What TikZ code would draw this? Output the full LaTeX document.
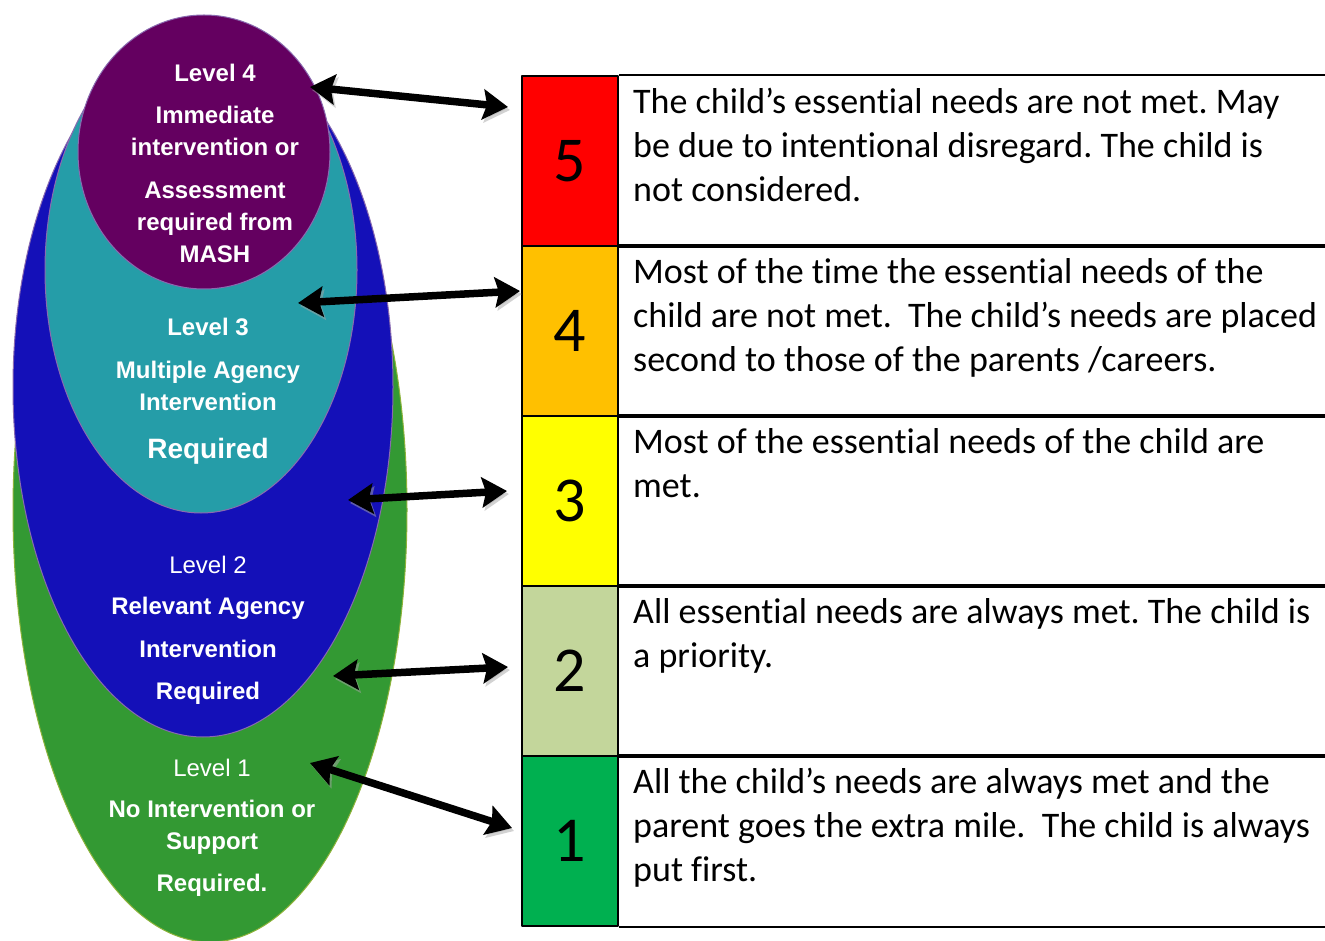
\documentclass[tikz,border=0pt]{standalone}
\usepackage{fontspec}
\setmainfont[Ligatures={NoCommon,NoRequired,NoContextual}]{Carlito}
\newfontfamily\arialfont{Liberation Sans}
\usetikzlibrary{shapes.geometric,arrows.meta,positioning}
\definecolor{lvlpurple}{HTML}{640060}
\definecolor{lvlteal}{HTML}{259DA8}
\definecolor{lvlblue}{HTML}{1410B8}
\definecolor{lvlgreen}{HTML}{339933}
\definecolor{rimpurple}{HTML}{8A6AB0}
\definecolor{rimgreen}{HTML}{8DB33A}
\definecolor{rowred}{HTML}{FF0000}
\definecolor{rowamber}{HTML}{FFC000}
\definecolor{rowyellow}{HTML}{FFFF00}
\definecolor{rowolive}{HTML}{C3D69B}
\definecolor{rowgreen}{HTML}{00B050}
\frenchspacing
\begin{document}
\begin{tikzpicture}[x=1pt,y=-1pt,line join=round,
	lvl/.style={ellipse,inner sep=0pt,draw=rimpurple,line width=1pt},
	lvltext/.style={text=white,align=center,anchor=north,inner sep=0pt,font=\arialfont\bfseries\fontsize{24}{32}\selectfont},
	numcell/.style={draw=black,line width=2pt,minimum width=96pt,minimum height=170pt,inner sep=0pt,font=\fontsize{64}{70}\selectfont},
	desc/.style={align=left,inner sep=0pt,font=\fontsize{36}{44}\selectfont},
	link/.style={line width=7.5pt,{Stealth[length=25pt,width=30pt,inset=4pt]}-{Stealth[length=25pt,width=30pt,inset=4pt]},
		preaction={draw=black!35,opacity=0.5,transform canvas={shift={(2pt,-3pt)}}}}]
	\useasboundingbox (0,0) rectangle (1325,941);
	\coordinate (edge) at (1325,0);
	% levels, largest first
	\node[lvl,fill=lvlgreen,draw=rimgreen,minimum width=394pt,minimum height=864pt] (l1) at (210,510) {};
	\node[lvl,fill=lvlblue,minimum width=380pt,minimum height=700pt] (l2) at (203,387) {};
	\node[lvl,fill=lvlteal,minimum width=312pt,minimum height=486pt] (l3) at (201,270) {};
	\node[lvl,fill=lvlpurple,minimum width=252pt,minimum height=274pt] (l4) at (204,152) {};
	\node[lvltext] (t4) at (215,64) {Level 4\\[10pt]Immediate\\intervention or\\[11pt]Assessment\\required from\\MASH};
	\node[lvltext] (t3) at (208,318) {Level 3\\[11pt]Multiple Agency\\Intervention\\[16pt]{\fontsize{28}{32}\selectfont Required}};
	\node[lvltext] (t2) at (208,556) {{\mdseries Level 2}\\[9pt]Relevant Agency\\[11pt]Intervention\\[10pt]Required};
	\node[lvltext] (t1) at (212,759) {{\mdseries Level 1}\\[9pt]No Intervention or\\Support\\[10pt]Required.};
	% table
	\foreach \n/\col [count=\i] in {5/rowred,4/rowamber,3/rowyellow,2/rowolive,1/rowgreen}{
		\node[numcell,fill=\col] (n\n) at (570,{161+170*(\i-1)}) {\n};
		\draw[line width=2pt] (n\n.north east) -- (n\n.north east -| edge);
		\draw[line width=2pt] (n\n.south east) -- (n\n.south east -| edge);
	}
	\node[desc,below right=13pt and 14pt of n5.north east] (d5) {The child’s essential needs are not met. May\\be due to intentional disregard. The child is\\not considered.};
	\node[desc,below right=13pt and 14pt of n4.north east] (d4) {Most of the time the essential needs of the\\child are not met.~ The child’s needs are placed\\second to those of the parents /careers.};
	\node[desc,below right=13pt and 14pt of n3.north east] (d3) {Most of the essential needs of the child are\\met.};
	\node[desc,below right=13pt and 14pt of n2.north east] (d2) {All essential needs are always met. The child is\\a priority.};
	\node[desc,below right=13pt and 14pt of n1.north east] (d1) {All the child’s needs are always met and the\\parent goes the extra mile.~ The child is always\\put first.};
	% arrows
	\coordinate (e5) at (310,87);  \coordinate (r5) at (508,107);
	\coordinate (e4) at (298,303); \coordinate (r4) at (520,291);
	\coordinate (e3) at (348,500); \coordinate (r3) at (507,491);
	\coordinate (e2) at (333,676); \coordinate (r2) at (508,667);
	\coordinate (e1) at (310,763); \coordinate (r1) at (512,828);
	\foreach \n in {5,4,3,2,1}
		\draw[link] (e\n) -- (r\n);
\end{tikzpicture}
\end{document}
